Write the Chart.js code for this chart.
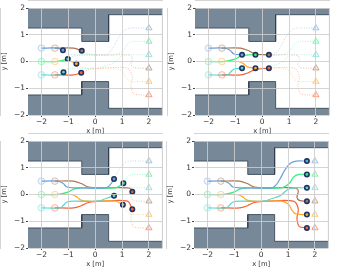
<!DOCTYPE html>
<html>
<head>
<meta charset="utf-8">
<script src="https://cdn.jsdelivr.net/npm/chart.js@4"></script>
<style>
  html, body { margin: 0; padding: 0; background: #fff; width: 338px; height: 273px; overflow: hidden; }
  canvas { position: absolute; }
</style>
</head>
<body>
<canvas id="c0"></canvas>
<canvas id="c1"></canvas>
<canvas id="c2"></canvas>
<canvas id="c3"></canvas>
<script>
// ticks
const xTicks = [-2, -1, 0, 1, 2];
const yTicks = [-2, -1, 0, 1, 2];

// walls of the corridor, outline closed along the plot edge
const wallTopX = [-2.5, 2.5, 2.5, 0.5, 0.5, -0.5, -0.5, -2.5, -2.5];
const wallTopY = [2, 2, 1.75, 1.75, 0.75, 0.75, 1.25, 1.25, 2];
const wallBottomX = [-2.5, 2.5, 2.5, 0.5, 0.5, -0.5, -0.5, -2.5, -2.5];
const wallBottomY = [-2, -2, -1.75, -1.75, -0.75, -0.75, -1.25, -1.25, -2];

// agent paths
const blueX = [-2, -1.4, -1.2, -1.05, -0.75, 0.4, 0.55, 0.7, 0.9, 1.1, 1.3, 1.7, 2];
const blueY = [0.5, 0.5, 0.42, 0.28, 0.25, 0.25, 0.35, 0.58, 0.95, 1.18, 1.25, 1.25, 1.25];
const greenX = [-2, -1.4, -1.02, -0.8, -0.5, -0.25, 0.75, 1.05, 1.2, 1.4, 1.7, 2];
const greenY = [0, 0, 0.09, 0.2, 0.25, 0.25, 0.25, 0.42, 0.65, 0.75, 0.75, 0.75];
const cyanX = [-2, -1.3, -1.18, -1.05, -0.75, 0.1, 0.4, 0.7, 1, 1.2, 1.7, 2];
const cyanY = [-0.5, -0.5, -0.4, -0.28, -0.25, -0.25, -0.15, -0.05, 0.2, 0.25, 0.25, 0.25];
const brownX = [-1.5, -0.8, -0.5, -0.25, 0.25, 1.2, 1.35, 1.38, 1.33, 1.42, 1.7, 2];
const brownY = [0.5, 0.5, 0.4, 0.28, 0.25, 0.25, 0.2, 0.1, -0.1, -0.22, -0.25, -0.25];
const orangeX = [-1.5, -0.9, -0.7, -0.55, -0.25, 0.75, 1.03, 1.15, 1.3, 1.7, 2];
const orangeY = [0, 0, -0.08, -0.2, -0.25, -0.25, -0.38, -0.6, -0.73, -0.75, -0.75];
const redX = [-1.5, -0.8, -0.52, -0.25, 0.25, 1.2, 1.38, 1.33, 1.42, 1.7, 2];
const redY = [-0.5, -0.5, -0.42, -0.3, -0.25, -0.25, -0.55, -0.9, -1.2, -1.25, -1.25];

// index of the current position in each panel
const blueSnap = [2, 4, 7, 11];
const greenSnap = [2, 5, 7, 10];
const cyanSnap = [2, 4, 7, 10];
const brownSnap = [2, 4, 7, 10];
const orangeSnap = [2, 4, 6, 9];
const redSnap = [2, 4, 6, 9];

const agents = [
  { x: blueX, y: blueY, snap: blueSnap, rgb: '110,160,215' },
  { x: greenX, y: greenY, snap: greenSnap, rgb: '50,240,130' },
  { x: cyanX, y: cyanY, snap: cyanSnap, rgb: '90,215,205' },
  { x: brownX, y: brownY, snap: brownSnap, rgb: '170,115,80' },
  { x: orangeX, y: orangeY, snap: orangeSnap, rgb: '255,170,40' },
  { x: redX, y: redY, snap: redSnap, rgb: '250,95,50' }
];

// canvas placement of the 4 panels
const panels = [
  { left: 0, top: 0 },
  { left: 167, top: 0 },
  { left: 0, top: 133 },
  { left: 166, top: 133 }
];

function pts(xs, ys) {
  return xs.map((v, i) => ({ x: v, y: ys[i] }));
}

function buildWall(xs, ys) {
  const all = pts(xs, ys);
  return [
    // grey area
    { data: all, showLine: true, fill: 'shape', backgroundColor: '#778899',
      borderWidth: 0, borderColor: 'rgba(0,0,0,0)', pointRadius: 0, order: 50 },
    // dark edge on the corridor side only
    { data: all.slice(2, 8), showLine: true, fill: false, borderColor: '#2f3b4a',
      borderWidth: 0.8, pointRadius: 0, order: 49 }
  ];
}

function buildDatasets(p) {
  const sets = [...buildWall(wallTopX, wallTopY), ...buildWall(wallBottomX, wallBottomY)];
  agents.forEach(a => {
    const all = pts(a.x, a.y);
    const k = a.snap[p];
    const n = all.length - 1;
    // travelled part
    sets.push({
      data: all.slice(0, k + 1), showLine: true, tension: 0.3, fill: false,
      borderColor: 'rgb(' + a.rgb + ')', borderWidth: 1.2, pointRadius: 0, order: 20
    });
    // planned part
    sets.push({
      data: all.slice(k), showLine: true, tension: 0.3, fill: false,
      borderColor: 'rgba(' + a.rgb + ',0.42)', borderWidth: 1, borderDash: [1, 1.5], pointRadius: 0, order: 21
    });
    // start
    sets.push({
      data: [all[0]], pointStyle: 'circle', pointRadius: 3.3,
      pointBackgroundColor: 'rgba(' + a.rgb + ',0.08)', pointBorderColor: 'rgba(' + a.rgb + ',0.6)',
      pointBorderWidth: 0.7, order: 10
    });
    // goal
    sets.push({
      data: [all[n]], pointStyle: 'triangle', pointRadius: 3.6,
      pointBackgroundColor: 'rgba(' + a.rgb + ',0.15)', pointBorderColor: 'rgba(' + a.rgb + ',0.8)',
      pointBorderWidth: 0.7, order: 10
    });
    // current position
    sets.push({
      data: [all[k]], pointStyle: 'circle', pointRadius: 2.2,
      pointBackgroundColor: 'rgb(' + a.rgb + ')', pointBorderColor: '#1d3461',
      pointBorderWidth: 1.6, order: 1
    });
  });
  return sets;
}

function axis(min, max, ticks, title, fit) {
  return {
    type: 'linear', min: min, max: max,
    afterBuildTicks: s => { s.ticks = ticks.map(v => ({ value: v })); },
    afterFit: fit,
    grid: { color: 'rgba(205,205,205,0.85)', lineWidth: 1, z: 1, tickLength: 2, tickColor: '#444', drawTicks: true },
    border: { color: '#aaa', width: 1 },
    ticks: {
      color: '#333', padding: 1, maxRotation: 0, autoSkip: false,
      font: { family: 'DejaVu Sans', size: 7.5 },
      callback: v => String(v).replace('-', '\u2212')
    },
    title: { display: true, text: title, color: '#333', padding: 0, font: { family: 'DejaVu Sans', size: 6.8 } }
  };
}

// light frame on the remaining sides
const frame = {
  id: 'frame',
  afterDraw(chart) {
    const a = chart.chartArea;
    const g = chart.ctx;
    g.save();
    g.strokeStyle = '#ccc';
    g.lineWidth = 1;
    g.beginPath();
    g.moveTo(a.right, a.top);
    g.lineTo(a.right, a.bottom);
    g.stroke();
    g.restore();
  }
};

panels.forEach((pos, p) => {
  const cv = document.getElementById('c' + p);
  cv.width = 168;
  cv.height = 137;
  cv.style.left = pos.left + 'px';
  cv.style.top = pos.top + 'px';
  new Chart(cv.getContext('2d'), {
    type: 'scatter',
    data: { datasets: buildDatasets(p) },
    plugins: [frame],
    options: {
      responsive: false,
      animation: false,
      layout: { padding: { top: 8, right: 5, left: 0, bottom: 2 } },
      plugins: { legend: { display: false }, tooltip: { enabled: false } },
      scales: {
        x: axis(-2.5, 2.5, xTicks, 'x [m]', s => { s.height = 20; }),
        y: axis(-2, 2, yTicks, 'y [m]', s => { s.width = 28; })
      }
    }
  });
});
</script>
</body>
</html>
